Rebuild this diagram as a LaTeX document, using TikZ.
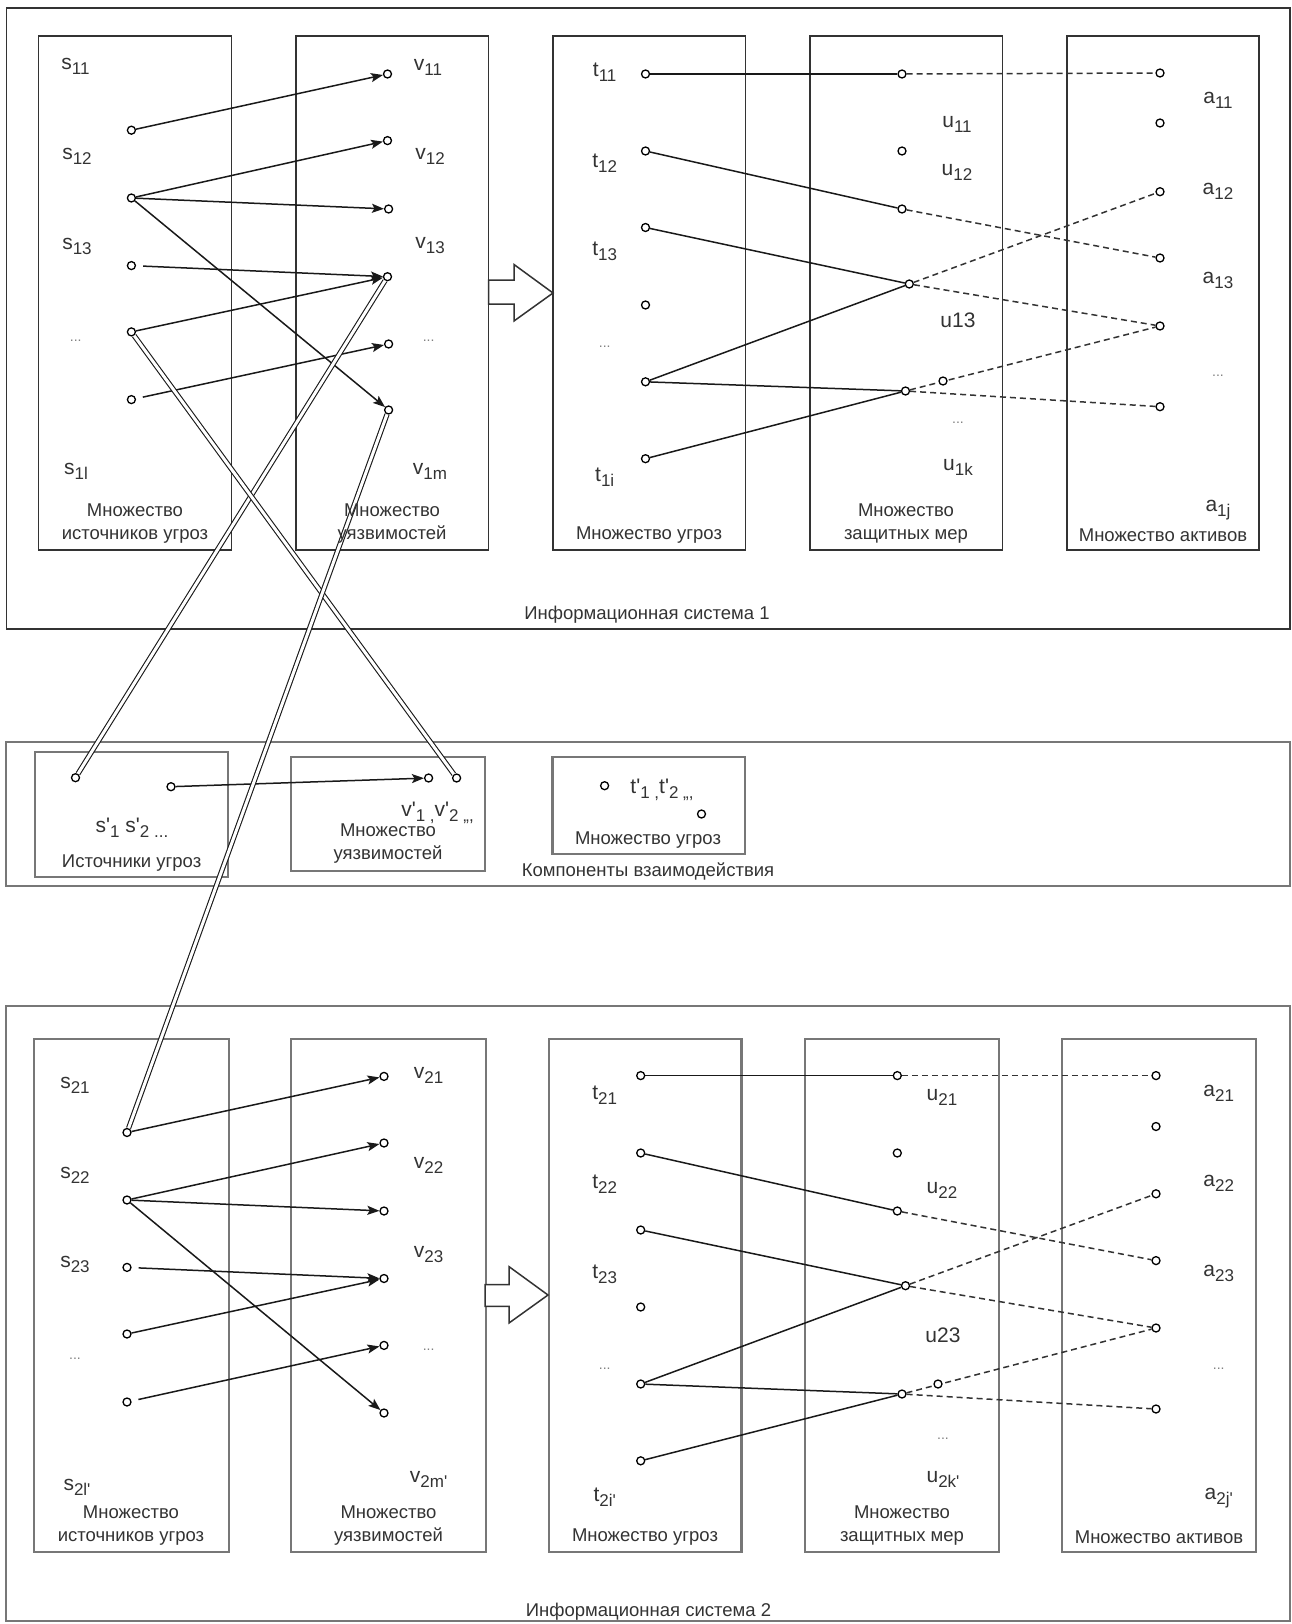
\documentclass[tikz,border=0pt]{standalone}
\usepackage{fontspec}
\setmainfont{Liberation Sans}
\usetikzlibrary{arrows.meta}
\pgfdeclarelayer{bg}
\pgfsetlayers{bg,main}
\definecolor{dk}{HTML}{333333}
\definecolor{gr}{HTML}{777777}
\definecolor{txt}{HTML}{333333}
\newcommand{\sbl}[2]{#1\raisebox{-5pt}{\fontsize{17}{17}\selectfont #2}}
\newcommand{\qs}{\textquotesingle}
\begin{document}
\begin{tikzpicture}[x=1pt,y=-1pt,
 frameA/.style={draw=dk,line width=1.5pt},
 frameB/.style={draw=gr,line width=2pt},
 boxA/.style={draw=dk,line width=1.7pt},
 boxB/.style={draw=gr,line width=2.2pt},
 pt/.style={circle,draw=black,fill=white,line width=1.3pt,minimum size=8pt,inner sep=0pt},
 sym/.style={font=\fontsize{21}{25}\selectfont,text=txt,inner sep=0pt},
 dots/.style={font=\fontsize{14}{16}\selectfont,text=gray,inner sep=0pt},
 title/.style={font=\fontsize{18.5}{23}\selectfont,text=txt,align=center,inner sep=0pt},
 conn/.style={line width=1.5pt,draw=black!90},
 arr/.style={conn,-{Stealth[length=12pt,width=9pt,inset=2.5pt]}},
 dsh/.style={line width=1.5pt,draw=black!80,dash pattern=on 6pt off 4pt},
 pipe/.style={draw=black!90,double=white,double distance=3pt,line width=1.1pt},
 bigarrow/.style={draw=dk,line width=1.5pt,fill=white}
]
\useasboundingbox (0,0) rectangle (1292,1624);

% ---------- frames and boxes ----------
\begin{pgfonlayer}{bg}
\draw[frameA] (6.4,7.9) rectangle (1290,629);
\draw[boxA] (38.6,35.9) rectangle (231.4,550);
\draw[boxA] (295.7,35.9) rectangle (488.6,550);
\draw[boxA] (552.9,35.9) rectangle (745.5,550);
\draw[boxA] (810,35.9) rectangle (1002.5,550);
\draw[boxA] (1067,35.9) rectangle (1259,550);

\draw[frameB] (6,742) rectangle (1290,886);
\draw[boxB] (34.7,752) rectangle (228,877);
\draw[boxB] (291,757) rectangle (485,871);
\draw[boxB] (552.5,757) rectangle (745,854);

\draw[frameB] (6.4,1006) rectangle (1290,1621);
\draw[boxB] (34,1038.6) rectangle (228.6,1552);
\draw[boxB] (291,1038.6) rectangle (486,1552);
\draw[boxB] (548.6,1038.6) rectangle (741.4,1552);
\draw[boxB] (805,1038.6) rectangle (999,1552);
\draw[boxB] (1062,1038.6) rectangle (1255.6,1552);
\end{pgfonlayer}

\draw[bigarrow] (488.6,280) -- (514,280) -- (514,264.5) -- (553,293) -- (514,321) -- (514,304) -- (488.6,304) -- cycle;
\draw[bigarrow] (485,1284.5) -- (509,1284.5) -- (509,1266.6) -- (548,1295) -- (509,1323) -- (509,1306.4) -- (485,1306.4) -- cycle;

% ---------- points, section 1 ----------
\node[pt] (sa1) at (131.4,130.2) {};
\node[pt] (sa2) at (131.4,198) {};
\node[pt] (sa3) at (131.4,265.6) {};
\node[pt] (sa4) at (131.4,331.9) {};
\node[pt] (sa5) at (131.4,399.6) {};
\node[pt] (va1) at (387.5,74) {};
\node[pt] (va2) at (387.5,140.6) {};
\node[pt] (va3) at (388.6,209) {};
\node[pt] (va4) at (387.5,276.7) {};
\node[pt] (va5) at (388.6,344) {};
\node[pt] (va6) at (388.6,410) {};
\node[pt] (ta1) at (645.5,74) {};
\node[pt] (ta2) at (645.5,151) {};
\node[pt] (ta3) at (645.5,227.5) {};
\node[pt] (ta4) at (645.5,305) {};
\node[pt] (ta5) at (645.5,381.8) {};
\node[pt] (ta6) at (645.5,458.7) {};
\node[pt] (ua1) at (902,74) {};
\node[pt] (ua2) at (902,151) {};
\node[pt] (ua3) at (902,209) {};
\node[pt] (ua4) at (909.3,284) {};
\node[pt] (ua5) at (943,381) {};
\node[pt] (ua6) at (905.5,391) {};
\node[pt] (aa1) at (1160,73) {};
\node[pt] (aa2) at (1160,123) {};
\node[pt] (aa3) at (1160,191.7) {};
\node[pt] (aa4) at (1160,258) {};
\node[pt] (aa5) at (1160,326) {};
\node[pt] (aa6) at (1160,406.7) {};

% ---------- points, middle ----------
\node[pt] (mp1) at (75.5,777.7) {};
\node[pt] (mp2) at (171,786.7) {};
\node[pt] (mv1) at (428.6,778) {};
\node[pt] (mv2) at (456.6,778) {};
\node[pt] (mt1) at (604.6,785.7) {};
\node[pt] (mt2) at (701.5,814) {};

% ---------- points, section 2 ----------
\node[pt] (sb1) at (127,1132.5) {};
\node[pt] (sb2) at (127,1200) {};
\node[pt] (sb3) at (127,1267.4) {};
\node[pt] (sb4) at (127,1334) {};
\node[pt] (sb5) at (127,1402) {};
\node[pt] (vb1) at (384,1076.4) {};
\node[pt] (vb2) at (384,1143) {};
\node[pt] (vb3) at (384,1211) {};
\node[pt] (vb4) at (384,1278.5) {};
\node[pt] (vb5) at (384,1345.4) {};
\node[pt] (vb6) at (384,1413) {};
\node[pt] (tb1) at (640.7,1075.6) {};
\node[pt] (tb2) at (640.7,1153) {};
\node[pt] (tb3) at (640.7,1230) {};
\node[pt] (tb4) at (640.7,1307) {};
\node[pt] (tb5) at (640.7,1384) {};
\node[pt] (tb6) at (640.7,1460.8) {};
\node[pt] (ub1) at (897.3,1075.6) {};
\node[pt] (ub2) at (897.3,1153) {};
\node[pt] (ub3) at (897.3,1211) {};
\node[pt] (ub4) at (905.5,1285.7) {};
\node[pt] (ub5) at (938,1384) {};
\node[pt] (ub6) at (902,1394) {};
\node[pt] (ab1) at (1156,1075.6) {};
\node[pt] (ab2) at (1156,1126.5) {};
\node[pt] (ab3) at (1156,1193.8) {};
\node[pt] (ab4) at (1156,1260.6) {};
\node[pt] (ab5) at (1156,1328) {};
\node[pt] (ab6) at (1156,1409) {};

% ---------- connectors ----------
\begin{pgfonlayer}{bg}
\draw[arr] (sa1) -- (va1);
\draw[arr] (sa2) -- (va2);
\draw[arr] (sa2) -- (va3);
\draw[arr] (sa2) -- (va6);
\draw[arr,shorten <=7pt] (sa3) -- (va4);
\draw[arr] (sa4) -- (va4);
\draw[arr,shorten <=7pt] (sa5) -- (va5);
\draw[conn] (ta1) -- (ua1);
\draw[conn] (ta2) -- (ua3);
\draw[conn] (ta3) -- (ua4);
\draw[conn] (ta5) -- (ua4);
\draw[conn] (ta5) -- (ua6);
\draw[conn] (ta6) -- (ua6);
\draw[dsh] (ua1) -- (aa1);
\draw[dsh] (ua3) -- (aa4);
\draw[dsh] (ua4) -- (aa3);
\draw[dsh] (ua4) -- (aa5);
\draw[dsh] (ua6) -- (aa5);
\draw[dsh] (ua6) -- (aa6);

\draw[arr] (mp2) -- (mv1);

\draw[arr] (sb1) -- (vb1);
\draw[arr] (sb2) -- (vb2);
\draw[arr] (sb2) -- (vb3);
\draw[arr] (sb2) -- (vb6);
\draw[arr,shorten <=7pt] (sb3) -- (vb4);
\draw[arr] (sb4) -- (vb4);
\draw[arr,shorten <=7pt] (sb5) -- (vb5);
\draw[conn] (tb1) -- (ub1);
\draw[conn] (tb2) -- (ub3);
\draw[conn] (tb3) -- (ub4);
\draw[conn] (tb5) -- (ub4);
\draw[conn] (tb5) -- (ub6);
\draw[conn] (tb6) -- (ub6);
\draw[dsh] (ub1) -- (ab1);
\draw[dsh] (ub3) -- (ab4);
\draw[dsh] (ub4) -- (ab3);
\draw[dsh] (ub4) -- (ab5);
\draw[dsh] (ub6) -- (ab5);
\draw[dsh] (ub6) -- (ab6);
\end{pgfonlayer}

\draw[pipe] (va4) -- (mp1);
\draw[pipe] (sa4) -- (mv2);
\draw[pipe] (va6) -- (sb1);

% ---------- labels, section 1 ----------
\node[sym] (ls11) at (75.5,66.5) {\sbl{s}{11}};
\node[sym] (ls12) at (77,156.5) {\sbl{s}{12}};
\node[sym] (ls13) at (77,246) {\sbl{s}{13}};
\node[dots] (lsd1) at (75.7,341) {...};
\node[sym] (ls1l) at (76,471) {\sbl{s}{1l}};
\node[sym] (lv11) at (428,67) {\sbl{v}{11}};
\node[sym] (lv12) at (430,156) {\sbl{v}{12}};
\node[sym] (lv13) at (430,246) {\sbl{v}{13}};
\node[dots] (lvd1) at (428.6,341) {...};
\node[sym] (lv1m) at (430,471) {\sbl{v}{1m}};
\node[sym] (lt11) at (604.7,72) {\sbl{t}{11}};
\node[sym] (lt12) at (604.7,162.8) {\sbl{t}{12}};
\node[sym] (lt13) at (604.7,251.6) {\sbl{t}{13}};
\node[dots] (ltd1) at (604.7,347) {...};
\node[sym] (lt1i) at (604.7,477) {\sbl{t}{1i}};
\node[sym] (lu11) at (957,124) {\sbl{u}{11}};
\node[sym] (lu12) at (957,172) {\sbl{u}{12}};
\node[sym] (lu13) at (958,320) {u13};
\node[dots] (lud1) at (958,423) {...};
\node[sym] (lu1k) at (958,467) {\sbl{u}{1k}};
\node[sym] (la11) at (1218,100) {\sbl{a}{11}};
\node[sym] (la12) at (1218,191.7) {\sbl{a}{12}};
\node[sym] (la13) at (1218,280) {\sbl{a}{13}};
\node[dots] (lad1) at (1218,376) {...};
\node[sym] (la1j) at (1218,510) {\sbl{a}{1j}};

\node[title] (hs1) at (135,523.5) {Множество\\источников угроз};
\node[title] (hv1) at (392,523.5) {Множество\\уязвимостей};
\node[title] (ht1) at (649,535) {Множество угроз};
\node[title] (hu1) at (906,523.5) {Множество\\защитных мер};
\node[title] (ha1) at (1163,535) {Множество активов};
\node[title] (hsys1) at (647,615) {Информационная система 1};

% ---------- labels, middle ----------
\node[sym] (lsp) at (132,828) {\sbl{s\qs}{1} \sbl{s\qs}{2 ...}};
\node[title] (hsp) at (131.6,862.7) {Источники угроз};
\node[sym] (lvp) at (437.5,813) {\sbl{v\qs}{1 ,}\sbl{v\qs}{2 ,,,}};
\node[title] (hvp) at (388,844) {Множество\\уязвимостей};
\node[sym] (ltp) at (662,790) {\sbl{t\qs}{1 ,}\sbl{t\qs}{2 ,,,}};
\node[title] (htp) at (648,840) {Множество угроз};
\node[title] (hmid) at (648,871.7) {Компоненты взаимодействия};

% ---------- labels, section 2 ----------
\node[sym] (ls21) at (75,1085.6) {\sbl{s}{21}};
\node[sym] (ls22) at (75,1175) {\sbl{s}{22}};
\node[sym] (ls23) at (75,1264.6) {\sbl{s}{23}};
\node[dots] (lsd2) at (75,1359) {...};
\node[sym] (ls2l) at (77,1487.5) {\sbl{s}{2l\qs}};
\node[sym] (lv21) at (428.6,1075.6) {\sbl{v}{21}};
\node[sym] (lv22) at (428.6,1165) {\sbl{v}{22}};
\node[sym] (lv23) at (428.6,1254.7) {\sbl{v}{23}};
\node[dots] (lvd2) at (428.6,1350) {...};
\node[sym] (lv2m) at (428.6,1479.5) {\sbl{v}{2m\qs}};
\node[sym] (lt21) at (604.7,1095.5) {\sbl{t}{21}};
\node[sym] (lt22) at (604.7,1184) {\sbl{t}{22}};
\node[sym] (lt23) at (604.7,1273.8) {\sbl{t}{23}};
\node[dots] (ltd2) at (604.7,1369) {...};
\node[sym] (lt2i) at (604.7,1497.4) {\sbl{t}{2i\qs}};
\node[sym] (lu21) at (942,1097.5) {\sbl{u}{21}};
\node[sym] (lu22) at (942,1190) {\sbl{u}{22}};
\node[sym] (lu23) at (943,1335.5) {u23};
\node[dots] (lud2) at (943,1439) {...};
\node[sym] (lu2k) at (943,1479.5) {\sbl{u}{2k\qs}};
\node[sym] (la21) at (1218.7,1093.5) {\sbl{a}{21}};
\node[sym] (la22) at (1218.7,1183) {\sbl{a}{22}};
\node[sym] (la23) at (1218.7,1273.8) {\sbl{a}{23}};
\node[dots] (lad2) at (1218.7,1369) {...};
\node[sym] (la2j) at (1218.7,1498) {\sbl{a}{2j\qs}};

\node[title] (hs2) at (131,1526) {Множество\\источников угроз};
\node[title] (hv2) at (388.5,1526) {Множество\\уязвимостей};
\node[title] (ht2) at (645,1537) {Множество угроз};
\node[title] (hu2) at (902,1526) {Множество\\защитных мер};
\node[title] (ha2) at (1159,1537) {Множество активов};
\node[title] (hsys2) at (648.5,1612) {Информационная система 2};
\end{tikzpicture}
\end{document}
